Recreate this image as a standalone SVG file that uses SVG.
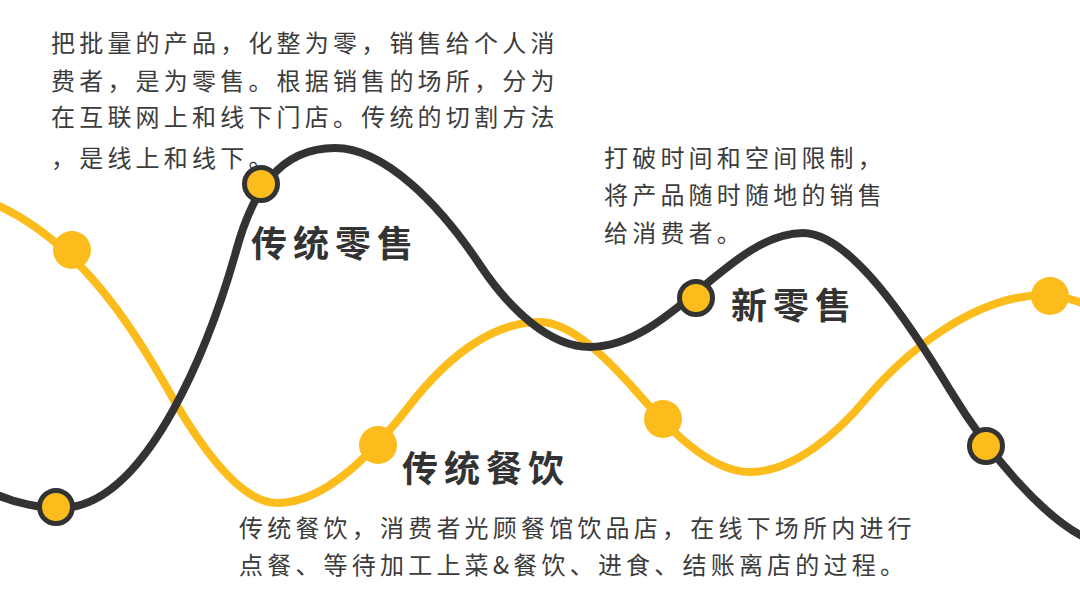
<svg xmlns="http://www.w3.org/2000/svg" width="1080" height="608" viewBox="0 0 1080 608">
<style>
.body{font-family:"Noto Sans CJK SC","Noto Sans",sans-serif;font-size:24px;letter-spacing:4.2px;fill:#3c3c3c}
.title{font-family:"Noto Sans CJK SC","Noto Sans",sans-serif;font-size:36px;font-weight:bold;letter-spacing:6px;fill:#333333}
.yl{fill:none;stroke:#FBBC1C;stroke-width:8;stroke-linecap:round}
.bl{fill:none;stroke:#333333;stroke-width:8;stroke-linecap:round}
.yd{fill:#FBBC1C}
.bd{fill:#FBBC1C;stroke:#333333;stroke-width:5}
</style>
<rect width="1080" height="608" fill="#ffffff"/>
<g id="connectors">
<path class="yl" d="M -5,204 C 85,244 140,340 175,402 C 205,453 242,503 277,503 C 327,503 375,450 410,405 C 445,360 490,322 540,322 C 572,322 610,362 635,390 C 660,418 705,472 750,472 C 795,472 840,430 865,400 C 905,352 975,295 1045,295 C 1060,295 1075,300 1090,306"/>
<path class="bl" d="M -5,494 C 15,503 40,508 60,508 C 150,508 213,332 235,255 C 252,190 280,148 335,148 C 385,148 440,205 480,265 C 510,310 550,347 590,347 C 670,347 730,233 803,233 C 850,233 910,324 950,390 C 990,456 1045,520 1090,540"/>
</g>
<g id="dot-y1"><circle class="yd" cx="72" cy="250" r="19"/></g>
<g id="dot-y2"><circle class="yd" cx="378" cy="445" r="19"/></g>
<g id="dot-y3"><circle class="yd" cx="663" cy="419" r="19"/></g>
<g id="dot-y4"><circle class="yd" cx="1050" cy="296" r="19"/></g>
<g id="dot-b1"><circle class="bd" cx="56" cy="507" r="16.5"/></g>
<g id="dot-b2"><circle class="bd" cx="261" cy="184" r="16.5"/></g>
<g id="dot-b3"><circle class="bd" cx="696" cy="298" r="16.5"/></g>
<g id="dot-b4"><circle class="bd" cx="986" cy="446" r="16.5"/></g>
<g id="text-retail-desc">
<text class="body" x="51" y="52">把批量的产品，化整为零，销售给个人消</text>
<text class="body" x="51" y="90">费者，是为零售。根据销售的场所，分为</text>
<text class="body" x="51" y="126">在互联网上和线下门店。传统的切割方法</text>
<text class="body" x="51" y="167">，是线上和线下。</text>
</g>
<g id="text-new-desc">
<text class="body" x="604" y="167">打破时间和空间限制，</text>
<text class="body" x="604" y="204">将产品随时随地的销售</text>
<text class="body" x="604" y="242">给消费者。</text>
</g>
<g id="text-food-desc">
<text class="body" x="239" y="537">传统餐饮，消费者光顾餐馆饮品店，在线下场所内进行</text>
<text class="body" x="239" y="574">点餐、等待加工上菜&amp;餐饮、进食、结账离店的过程。</text>
</g>
<g id="title-retail"><text class="title" x="251" y="257">传统零售</text></g>
<g id="title-new"><text class="title" x="731" y="319">新零售</text></g>
<g id="title-food"><text class="title" x="402" y="482">传统餐饮</text></g>
</svg>
